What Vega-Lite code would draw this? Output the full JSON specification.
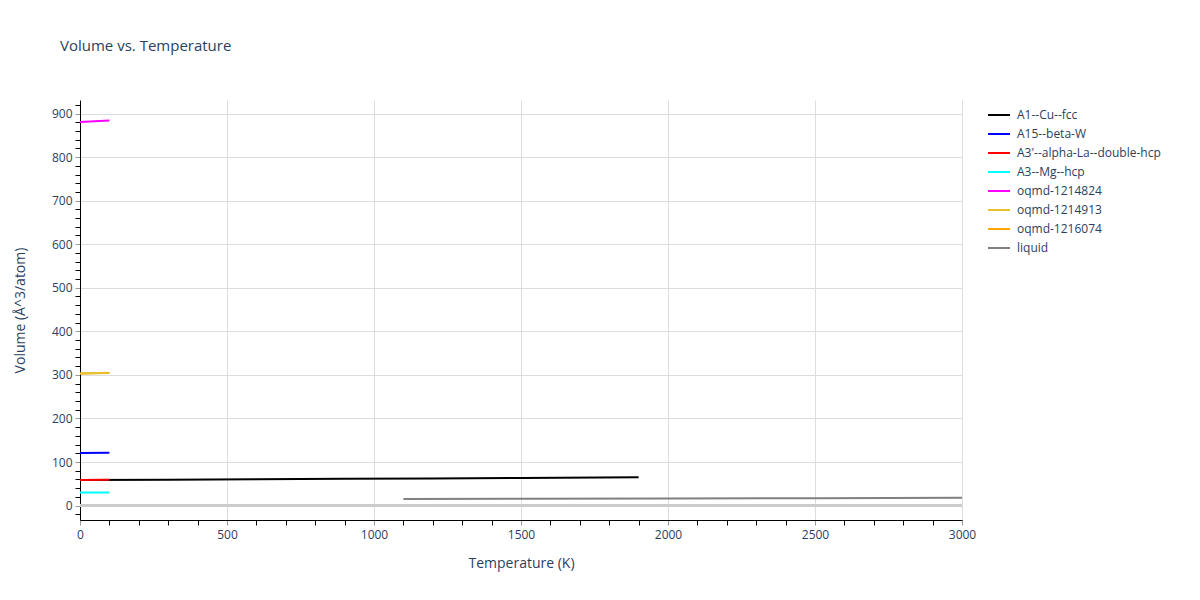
{
  "$schema": "https://vega.github.io/schema/vega-lite/v6.json",
  "autosize": "none",
  "width": 882,
  "height": 420,
  "padding": {"left": 80, "top": 100, "right": 238, "bottom": 80},
  "background": "white",
  "config": {
    "font": "Open Sans",
    "view": {"stroke": null},
    "axis": {
      "labelFont": "Open Sans",
      "titleFont": "Open Sans",
      "labelFontSize": 12,
      "titleFontSize": 14,
      "labelColor": "#2a3f5f",
      "titleColor": "#2a3f5f",
      "titleFontWeight": "normal",
      "domainColor": "#000000",
      "domainWidth": 1,
      "gridColor": "#dddddd",
      "gridWidth": 1
    },
    "legend": {
      "labelFont": "Open Sans",
      "labelFontSize": 12,
      "labelColor": "#2a3f5f"
    }
  },
  "title": {
    "text": "Volume vs. Temperature",
    "anchor": "start",
    "frame": "group",
    "dx": -20,
    "offset": 45,
    "fontSize": 15,
    "fontWeight": "normal",
    "color": "#2a3f5f",
    "font": "Open Sans"
  },
  "data": {
    "values": [
      {"phase": "A1--Cu--fcc", "T": 0, "V": 59.0},
      {"phase": "A1--Cu--fcc", "T": 300, "V": 59.5},
      {"phase": "A1--Cu--fcc", "T": 600, "V": 60.4},
      {"phase": "A1--Cu--fcc", "T": 900, "V": 61.4},
      {"phase": "A1--Cu--fcc", "T": 1200, "V": 62.5},
      {"phase": "A1--Cu--fcc", "T": 1500, "V": 63.6},
      {"phase": "A1--Cu--fcc", "T": 1900, "V": 65.0},
      {"phase": "A15--beta-W", "T": 0, "V": 121.0},
      {"phase": "A15--beta-W", "T": 100, "V": 121.2},
      {"phase": "A3'--alpha-La--double-hcp", "T": 0, "V": 59.0},
      {"phase": "A3'--alpha-La--double-hcp", "T": 100, "V": 59.2},
      {"phase": "A3--Mg--hcp", "T": 0, "V": 30.0},
      {"phase": "A3--Mg--hcp", "T": 100, "V": 30.1},
      {"phase": "oqmd-1214824", "T": 0, "V": 880.5},
      {"phase": "oqmd-1214824", "T": 100, "V": 884.0},
      {"phase": "oqmd-1216074", "T": 0, "V": 303.2},
      {"phase": "oqmd-1216074", "T": 100, "V": 304.6},
      {"phase": "oqmd-1214913", "T": 0, "V": 303.5},
      {"phase": "oqmd-1214913", "T": 100, "V": 305.0},
      {"phase": "liquid", "T": 1100, "V": 15.4},
      {"phase": "liquid", "T": 1500, "V": 16.0},
      {"phase": "liquid", "T": 2000, "V": 16.6},
      {"phase": "liquid", "T": 2500, "V": 17.2},
      {"phase": "liquid", "T": 3000, "V": 17.8}
    ]
  },
  "layer": [
    {
      "mark": {"type": "rule", "color": "#cccccc", "strokeWidth": 2},
      "encoding": {"y": {"datum": 0, "type": "quantitative"}}
    },
    {
      "mark": {"type": "line", "strokeWidth": 2, "clip": true},
      "encoding": {
        "x": {
          "field": "T",
          "type": "quantitative",
          "title": "Temperature (K)",
          "scale": {"domain": [0, 3000], "nice": false, "zero": false},
          "axis": {
            "values": [0, 100, 200, 300, 400, 500, 600, 700, 800, 900, 1000, 1100, 1200, 1300, 1400, 1500, 1600, 1700, 1800, 1900, 2000, 2100, 2200, 2300, 2400, 2500, 2600, 2700, 2800, 2900, 3000],
            "tickCount": 200,
            "grid": true,
            "labelExpr": "datum.value % 500 == 0 ? datum.value : ''",
            "gridOpacity": {"condition": {"test": "datum.value % 500 == 0 && datum.value > 0", "value": 1}, "value": 0},
            "tickColor": {"condition": {"test": "datum.value % 500 == 0", "value": "#999999"}, "value": "#000000"},
            "tickSize": 5,
            "labelPadding": 4,
            "titlePadding": 16,
            "labelFlush": false,
            "labelOverlap": false
          }
        },
        "y": {
          "field": "V",
          "type": "quantitative",
          "title": "Volume (Å^3/atom)",
          "scale": {"domain": [-33, 931], "nice": false, "zero": false},
          "axis": {
            "values": [-20, 0, 20, 40, 60, 80, 100, 120, 140, 160, 180, 200, 220, 240, 260, 280, 300, 320, 340, 360, 380, 400, 420, 440, 460, 480, 500, 520, 540, 560, 580, 600, 620, 640, 660, 680, 700, 720, 740, 760, 780, 800, 820, 840, 860, 880, 900, 920],
            "tickCount": 200,
            "grid": true,
            "labelExpr": "datum.value % 100 == 0 ? datum.value : ''",
            "gridOpacity": {"condition": {"test": "datum.value % 100 == 0 && datum.value != 0", "value": 1}, "value": 0},
            "tickColor": {"condition": {"test": "datum.value % 100 == 0", "value": "#999999"}, "value": "#000000"},
            "tickSize": 5,
            "labelPadding": 3,
            "titlePadding": 24,
            "labelOverlap": false
          }
        },
        "color": {
          "field": "phase",
          "type": "nominal",
          "title": null,
          "scale": {
            "domain": ["A1--Cu--fcc", "A15--beta-W", "A3'--alpha-La--double-hcp", "A3--Mg--hcp", "oqmd-1214824", "oqmd-1214913", "oqmd-1216074", "liquid"],
            "range": ["#000000", "#0000ff", "#ff0000", "#00ffff", "#ff00ff", "#e8c030", "#ffa500", "#808080"]
          },
          "legend": {
            "orient": "none",
            "legendX": 907,
            "legendY": 3,
            "symbolType": "stroke",
            "symbolSize": 484,
            "symbolStrokeWidth": 2,
            "rowPadding": 1,
            "labelOffset": 6,
            "labelLimit": 300
          }
        }
      }
    }
  ]
}
